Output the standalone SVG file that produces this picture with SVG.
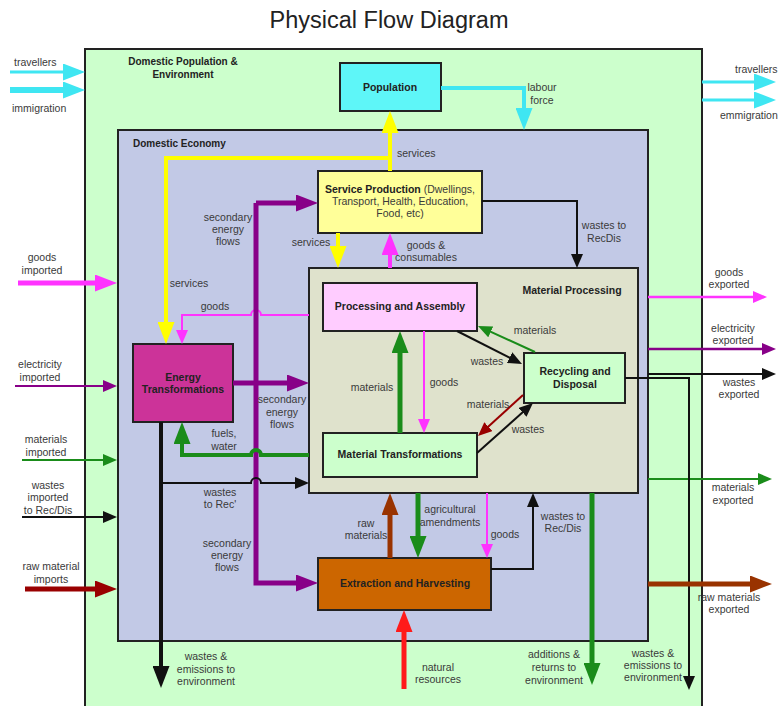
<svg xmlns="http://www.w3.org/2000/svg" width="778" height="706" viewBox="0 0 778 706">
<style>
.t{font-family:"Liberation Sans",Arial,sans-serif;font-size:10.5px;fill:#3a3a3a;text-anchor:middle}
.s{text-anchor:start}
.b{font-weight:bold;fill:#222}
.box{stroke:#222;stroke-width:2}
.c{fill:none;stroke-linejoin:miter}
.cy{stroke:#3fe6f2}
.ye{stroke:#ffff00}
.mg{stroke:#ff33ff}
.pu{stroke:#880088}
.gr{stroke:#1a8c1a}
.bk{stroke:#111}
.dr{stroke:#990000}
.br{stroke:#993300}
.rd{stroke:#ff1a1a}
</style>
<defs>
<marker id="cyB" markerUnits="userSpaceOnUse" markerWidth="22" markerHeight="17" refX="11" refY="8.5" orient="auto"><path d="M0,0L22,8.5L0,17z" fill="#3fe6f2"/></marker>
<marker id="yB" markerUnits="userSpaceOnUse" markerWidth="22" markerHeight="17" refX="11" refY="8.5" orient="auto"><path d="M0,0L22,8.5L0,17z" fill="#ffff00"/></marker>
<marker id="mB" markerUnits="userSpaceOnUse" markerWidth="22" markerHeight="17" refX="11" refY="8.5" orient="auto"><path d="M0,0L22,8.5L0,17z" fill="#ff33ff"/></marker>
<marker id="mS" markerUnits="userSpaceOnUse" markerWidth="14" markerHeight="12" refX="4" refY="6" orient="auto"><path d="M0,0L14,6L0,12z" fill="#ff33ff"/></marker>
<marker id="pB" markerUnits="userSpaceOnUse" markerWidth="22" markerHeight="17" refX="11" refY="8.5" orient="auto"><path d="M0,0L22,8.5L0,17z" fill="#880088"/></marker>
<marker id="pS" markerUnits="userSpaceOnUse" markerWidth="14" markerHeight="12" refX="4" refY="6" orient="auto"><path d="M0,0L14,6L0,12z" fill="#880088"/></marker>
<marker id="gB" markerUnits="userSpaceOnUse" markerWidth="22" markerHeight="17" refX="11" refY="8.5" orient="auto"><path d="M0,0L22,8.5L0,17z" fill="#1a8c1a"/></marker>
<marker id="gS" markerUnits="userSpaceOnUse" markerWidth="14" markerHeight="12" refX="4" refY="6" orient="auto"><path d="M0,0L14,6L0,12z" fill="#1a8c1a"/></marker>
<marker id="kB" markerUnits="userSpaceOnUse" markerWidth="22" markerHeight="17" refX="11" refY="8.5" orient="auto"><path d="M0,0L22,8.5L0,17z" fill="#111"/></marker>
<marker id="kS" markerUnits="userSpaceOnUse" markerWidth="14" markerHeight="12" refX="4" refY="6" orient="auto"><path d="M0,0L14,6L0,12z" fill="#111"/></marker>
<marker id="drB" markerUnits="userSpaceOnUse" markerWidth="22" markerHeight="17" refX="11" refY="8.5" orient="auto"><path d="M0,0L22,8.5L0,17z" fill="#990000"/></marker>
<marker id="drS" markerUnits="userSpaceOnUse" markerWidth="14" markerHeight="12" refX="4" refY="6" orient="auto"><path d="M0,0L14,6L0,12z" fill="#990000"/></marker>
<marker id="brB" markerUnits="userSpaceOnUse" markerWidth="22" markerHeight="17" refX="11" refY="8.5" orient="auto"><path d="M0,0L22,8.5L0,17z" fill="#993300"/></marker>
<marker id="rB" markerUnits="userSpaceOnUse" markerWidth="22" markerHeight="17" refX="11" refY="8.5" orient="auto"><path d="M0,0L22,8.5L0,17z" fill="#ff1a1a"/></marker>
</defs>
<rect width="778" height="706" fill="#ffffff"/>
<text class="t" x="389" y="28" style="font-size:23.5px;fill:#222">Physical Flow Diagram</text>

<g id="domestic-population-environment">
<rect class="box" x="85" y="49" width="617" height="665" fill="#ccffcc"/>
<text class="t b" x="183" y="65" style="font-size:10px">Domestic Population &amp;</text>
<text class="t b" x="183" y="78" style="font-size:10px">Environment</text>
</g>
<g id="domestic-economy">
<rect class="box" x="118" y="130" width="530" height="511" fill="#c2c9e6"/>
<text class="t b s" x="133" y="147" style="font-size:10px">Domestic Economy</text>
</g>
<g id="material-processing">
<rect class="box" x="309" y="268" width="329" height="225" fill="#dfe2cc"/>
<text class="t b" x="572" y="294">Material Processing</text>
</g>
<g id="population">
<rect class="box" x="340" y="63" width="101" height="48" fill="#5ef6f8"/>
<text class="t b" x="390" y="91">Population</text>
</g>
<g id="service-production">
<rect class="box" x="318" y="171" width="164" height="62" fill="#ffff99"/>
<text class="t" x="400" y="193"><tspan class="b">Service Production</tspan> (Dwellings,</text>
<text class="t" x="400" y="205">Transport, Health, Education,</text>
<text class="t" x="400" y="217">Food, etc)</text>
</g>
<g id="processing-assembly">
<rect class="box" x="323" y="283" width="154" height="48" fill="#ffccff"/>
<text class="t b" x="400" y="310">Processing and Assembly</text>
</g>
<g id="material-transformations">
<rect class="box" x="323" y="433" width="154" height="44" fill="#ccffcc"/>
<text class="t b" x="400" y="458">Material Transformations</text>
</g>
<g id="recycling-disposal">
<rect class="box" x="524" y="353" width="101" height="50" fill="#ccffcc"/>
<text class="t b" x="575" y="375">Recycling and</text>
<text class="t b" x="575" y="388">Disposal</text>
</g>
<g id="energy-transformations">
<rect class="box" x="133" y="344" width="100" height="78" fill="#cc3399"/>
<text class="t b" x="183" y="381">Energy</text>
<text class="t b" x="183" y="393">Transformations</text>
</g>
<g id="extraction-harvesting">
<rect class="box" x="318" y="558" width="173" height="52" fill="#cc6600"/>
<text class="t b" x="405" y="587">Extraction and Harvesting</text>
</g>

<g id="connectors">
<path class="c cy" stroke-width="3" d="M10,72H74" marker-end="url(#cyB)"/>
<path class="c cy" stroke-width="6" d="M10,90H74" marker-end="url(#cyB)"/>
<path class="c cy" stroke-width="4" d="M441,88H524V119" marker-end="url(#cyB)"/>
<path class="c cy" stroke-width="3" d="M702,82H765" marker-end="url(#cyB)"/>
<path class="c cy" stroke-width="3" d="M702,100H765" marker-end="url(#cyB)"/>

<path class="c ye" stroke-width="4" d="M390,171V122" marker-end="url(#yB)"/>
<path class="c ye" stroke-width="4" d="M390,158H166V333" marker-end="url(#yB)"/>
<path class="c ye" stroke-width="4" d="M338,233V257" marker-end="url(#yB)"/>

<path class="c mg" stroke-width="4" d="M390,268V244" marker-end="url(#mB)"/>
<path class="c mg" stroke-width="5" d="M18,283H106" marker-end="url(#mB)"/>
<path class="c mg" stroke-width="2" d="M309,315H261A5,5 0 0 0 251,315H182V334" marker-end="url(#mS)"/>
<path class="c mg" stroke-width="2" d="M424,331V423" marker-end="url(#mS)"/>
<path class="c mg" stroke-width="2" d="M487,493V548" marker-end="url(#mS)"/>
<path class="c mg" stroke-width="2.5" d="M648,297H757" marker-end="url(#mS)"/>

<path class="c pu" stroke-width="5" d="M256,203V583H307" marker-end="url(#pB)"/>
<path class="c pu" stroke-width="5" d="M256,203H307" marker-end="url(#pB)"/>
<path class="c pu" stroke-width="5" d="M233,383H298" marker-end="url(#pB)"/>
<path class="c pu" stroke-width="2" d="M15,386H107" marker-end="url(#pS)"/>
<path class="c pu" stroke-width="2.5" d="M648,349H766" marker-end="url(#pS)"/>

<path class="c gr" stroke-width="5" d="M400,433V342" marker-end="url(#gB)"/>
<path class="c gr" stroke-width="4" d="M309,455H261A5,5 0 0 0 251,455H182V433" marker-end="url(#gB)"/>
<path class="c gr" stroke-width="2" d="M22,460H107" marker-end="url(#gS)"/>
<path class="c gr" stroke-width="2" d="M535,352L487.1,330.2" marker-end="url(#gS)"/>
<path class="c gr" stroke-width="5" d="M418,493V547" marker-end="url(#gB)"/>
<path class="c gr" stroke-width="5" d="M592,493V674" marker-end="url(#gB)"/>
<path class="c gr" stroke-width="2" d="M648,479H762" marker-end="url(#gS)"/>

<path class="c bk" stroke-width="2" d="M482,201H577V258" marker-end="url(#kS)"/>
<path class="c bk" stroke-width="2" d="M457,331L513.1,359.5" marker-end="url(#kS)"/>
<path class="c bk" stroke-width="2" d="M477,453L525.5,409.7" marker-end="url(#kS)"/>
<path class="c bk" stroke-width="4" d="M161,422V677" marker-end="url(#kB)"/>
<path class="c bk" stroke-width="2" d="M161,483H251A5,5 0 0 1 261,483H299" marker-end="url(#kS)"/>
<path class="c bk" stroke-width="2" d="M22,517H107" marker-end="url(#kS)"/>
<path class="c bk" stroke-width="2" d="M491,569H533V503" marker-end="url(#kS)"/>
<path class="c bk" stroke-width="2" d="M648,374H766" marker-end="url(#kS)"/>
<path class="c bk" stroke-width="2" d="M625,378H689V680" marker-end="url(#kS)"/>

<path class="c dr" stroke-width="2" d="M523,395L485.4,429.3" marker-end="url(#drS)"/>
<path class="c dr" stroke-width="5" d="M25,589H106" marker-end="url(#drB)"/>
<path class="c br" stroke-width="5" d="M390,558V504" marker-end="url(#brB)"/>
<path class="c br" stroke-width="5" d="M648,584H761" marker-end="url(#brB)"/>
<path class="c rd" stroke-width="5" d="M404,689V621" marker-end="url(#rB)"/>
</g>

<g id="labels">
<text class="t s" x="14" y="66">travellers</text>
<text class="t s" x="12" y="112">immigration</text>
<text class="t s" x="735" y="73">travellers</text>
<text class="t s" x="720" y="119">emmigration</text>
<text class="t" x="542" y="91">labour</text>
<text class="t" x="542" y="104">force</text>
<text class="t s" x="397" y="157">services</text>
<text class="t" x="604" y="229">wastes to</text>
<text class="t" x="604" y="242">RecDis</text>
<text class="t" x="228" y="221">secondary</text>
<text class="t" x="228" y="233">energy</text>
<text class="t" x="228" y="245">flows</text>
<text class="t" x="311" y="246">services</text>
<text class="t" x="426" y="249">goods &amp;</text>
<text class="t" x="426" y="261">consumables</text>
<text class="t" x="42" y="261">goods</text>
<text class="t" x="42" y="274">imported</text>
<text class="t" x="189" y="287">services</text>
<text class="t" x="215" y="310">goods</text>
<text class="t" x="535" y="334">materials</text>
<text class="t" x="487" y="365">wastes</text>
<text class="t" x="372" y="391">materials</text>
<text class="t" x="444" y="386">goods</text>
<text class="t" x="488" y="408">materials</text>
<text class="t" x="528" y="433">wastes</text>
<text class="t" x="40" y="368">electricity</text>
<text class="t" x="40" y="381">imported</text>
<text class="t" x="282" y="403">secondary</text>
<text class="t" x="282" y="416">energy</text>
<text class="t" x="282" y="428">flows</text>
<text class="t" x="224" y="437">fuels,</text>
<text class="t" x="224" y="450">water</text>
<text class="t" x="46" y="443">materials</text>
<text class="t" x="46" y="456">imported</text>
<text class="t" x="48" y="489">wastes</text>
<text class="t" x="48" y="501">imported</text>
<text class="t" x="48" y="514">to Rec/Dis</text>
<text class="t" x="220" y="496">wastes</text>
<text class="t" x="220" y="508">to Rec'</text>
<text class="t" x="227" y="547">secondary</text>
<text class="t" x="227" y="559">energy</text>
<text class="t" x="227" y="571">flows</text>
<text class="t" x="51" y="570">raw material</text>
<text class="t" x="51" y="583">imports</text>
<text class="t" x="206" y="660">wastes &amp;</text>
<text class="t" x="206" y="673">emissions to</text>
<text class="t" x="206" y="685">environment</text>
<text class="t" x="366" y="527">raw</text>
<text class="t" x="366" y="539">materials</text>
<text class="t" x="450" y="513">agricultural</text>
<text class="t" x="450" y="526">amendments</text>
<text class="t" x="505" y="538">goods</text>
<text class="t" x="563" y="520">wastes to</text>
<text class="t" x="563" y="532">Rec/Dis</text>
<text class="t" x="438" y="671">natural</text>
<text class="t" x="438" y="683">resources</text>
<text class="t" x="554" y="658">additions &amp;</text>
<text class="t" x="554" y="671">returns to</text>
<text class="t" x="554" y="684">environment</text>
<text class="t" x="729" y="276">goods</text>
<text class="t" x="729" y="288">exported</text>
<text class="t" x="733" y="332">electricity</text>
<text class="t" x="733" y="344">exported</text>
<text class="t" x="739" y="386">wastes</text>
<text class="t" x="739" y="398">exported</text>
<text class="t" x="733" y="491">materials</text>
<text class="t" x="733" y="504">exported</text>
<text class="t" x="729" y="601">raw materials</text>
<text class="t" x="729" y="613">exported</text>
<text class="t" x="653" y="657">wastes &amp;</text>
<text class="t" x="653" y="669">emissions to</text>
<text class="t" x="653" y="681">environment</text>
</g>
</svg>
